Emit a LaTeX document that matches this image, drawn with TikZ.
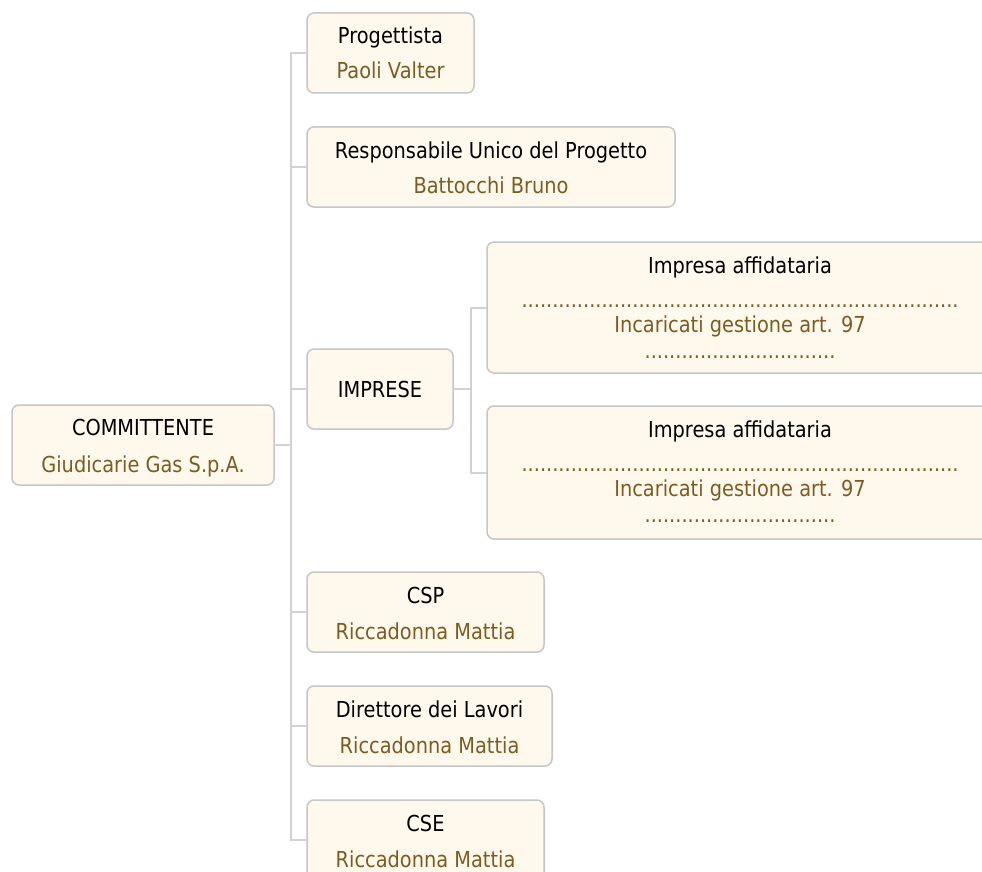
\documentclass[tikz,border=0pt]{standalone}
\usepackage{fontspec}
\setmainfont{DejaVu Sans}[FakeStretch=0.88]
\definecolor{boxfill}{HTML}{FEF8ED}
\definecolor{boxline}{HTML}{C6C6C6}
\definecolor{conn}{HTML}{D2D2D2}
\definecolor{brown}{HTML}{7E5C20}
\newcommand{\dotsrow}[1]{\foreach \i in {1,...,#1}{.}}
\begin{document}
\begin{tikzpicture}[x=1pt,y=-1pt,
  box/.style={draw=boxline, fill=boxfill, line width=1.5pt, rounded corners=7pt, inner sep=0pt, outer sep=0pt},
  lbl/.style={anchor=base, inner sep=0pt, font=\fontsize{22pt}{26pt}\selectfont, text=black},
  who/.style={lbl, text=brown},
  link/.style={draw=conn, line width=2pt}]
\useasboundingbox (0,0) rectangle (982,872);
\clip (0,0) rectangle (982,872);
\fill[white] (0,0) rectangle (982,872);
% boxes: center x, center y, width, height
\node[box, minimum width=262, minimum height=80] (comm) at (143,445) {};
\node[box, minimum width=167, minimum height=80] (prog) at (390.5,53) {};
\node[box, minimum width=368, minimum height=80] (rup) at (491,167) {};
\node[box, minimum width=146, minimum height=80] (imp) at (380,389) {};
\node[box, minimum width=506, minimum height=131] (ia1) at (740,307.5) {};
\node[box, minimum width=506, minimum height=133] (ia2) at (740,472.5) {};
\node[box, minimum width=237, minimum height=80] (csp) at (425.5,612) {};
\node[box, minimum width=245, minimum height=80] (dl) at (429.5,726) {};
\node[box, minimum width=237, minimum height=80] (cse) at (425.5,840) {};
% connectors
\coordinate (trunk) at ([xshift=17pt]comm.east);
\path[link] (comm.east) -- (trunk);
\path[link] (prog.west) -| (trunk) |- (cse.west);
\path[link] (rup.west) -- (rup.west -| trunk);
\path[link] (imp.west) -- (imp.west -| trunk);
\path[link] (csp.west) -- (csp.west -| trunk);
\path[link] (dl.west) -- (dl.west -| trunk);
\coordinate (itrunk) at ([xshift=18pt]imp.east);
\path[link] (imp.east) -- (itrunk);
\path[link] (ia1.west) -| (itrunk) |- (ia2.west);
% texts
\node[lbl] (t1) at (143,435) {COMMITTENTE};
\node[who] (t2) at (143,472) {Giudicarie Gas S.p.A.};
\node[lbl] (t3) at (390.5,44) {Progettista};
\node[who] (t4) at (390.5,79) {Paoli Valter};
\node[lbl] (t5) at (491,158) {Responsabile Unico del Progetto};
\node[who] (t6) at (491,193) {Battocchi Bruno};
\node[lbl] (t7) at (380,397) {IMPRESE};
\node[lbl] (t8) at (740,273) {Impresa affidataria};
\node[who] (t9) at (740,307) {\dotsrow{71}};
\node[who] (t10) at (740,332) {Incaricati gestione art. 97};
\node[who] (t11) at (740,358) {\dotsrow{31}};
\node[lbl] (t12) at (740,437) {Impresa affidataria};
\node[who] (t13) at (740,471) {\dotsrow{71}};
\node[who] (t14) at (740,496) {Incaricati gestione art. 97};
\node[who] (t15) at (740,522) {\dotsrow{31}};
\node[lbl] (t16) at (425.5,603) {CSP};
\node[who] (t17) at (425.5,639) {Riccadonna Mattia};
\node[lbl] (t18) at (429.5,717) {Direttore dei Lavori};
\node[who] (t19) at (429.5,753) {Riccadonna Mattia};
\node[lbl] (t20) at (425.5,831) {CSE};
\node[who] (t21) at (425.5,867) {Riccadonna Mattia};
\end{tikzpicture}
\end{document}
